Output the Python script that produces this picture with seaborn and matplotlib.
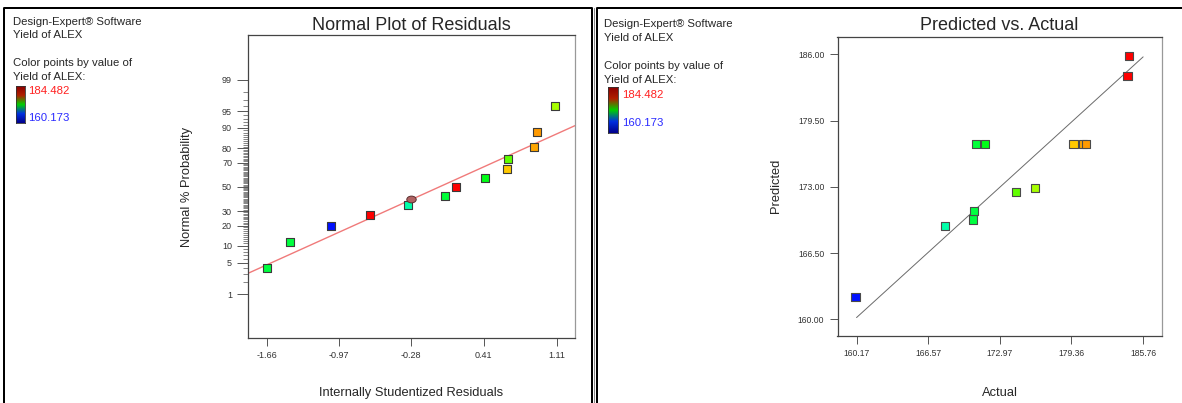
"""Design-Expert style diagnostics: normal plot of residuals and predicted vs actual."""

from statistics import NormalDist

import matplotlib.path as mpath
import matplotlib.pyplot as plt
import numpy as np
import pandas as pd
import seaborn as sns
from matplotlib.colors import LinearSegmentedColormap, ListedColormap
from matplotlib.lines import Line2D
from matplotlib.markers import MarkerStyle
from matplotlib.transforms import Affine2D

# ---- data ----
yield_min, yield_max = 160.173, 184.482

# normal plot of residuals
residuals = [-1.66, -1.44, -1.05, -0.67, -0.31, 0.04, 0.15, 0.42, 0.63, 0.64, 0.89, 0.92, 1.09]
normal_pct = [3.9, 11.7, 19.8, 27.1, 35.0, 42.5, 50.0, 58.0, 65.5, 73.0, 80.8, 88.5, 96.1]
resid_yield = [170.54, 170.63, 160.08, 184.36, 168.10, 170.80, 184.51, 171.64,
               179.54, 174.38, 180.37, 180.63, 176.11]
marked_resid = [-0.28]
marked_pct = [39.7]
fit_intercept, fit_slope = 0.014, 1.028
resid_ticks = [-1.66, -0.97, -0.28, 0.41, 1.11]
pct_ticks = [1, 5, 10, 20, 30, 50, 70, 80, 90, 95, 99]

# predicted vs actual
actual = [160.08, 168.10, 170.54, 170.63, 170.80, 171.64, 174.38, 176.11,
          179.54, 180.37, 180.63, 184.36, 184.51]
predicted = [162.16, 169.12, 169.80, 170.59, 177.19, 177.19, 172.51, 172.87,
             177.19, 177.19, 177.19, 183.92, 185.81]
actual_ticks = [160.17, 166.57, 172.97, 179.36, 185.76]
pred_ticks = [160.00, 166.50, 173.00, 179.50, 186.00]

W, H = 1182, 403


def fx(x):
    return x / W


def fy(y):
    return 1 - y / H


def box(x0, y0, x1, y1):
    return [fx(x0), fy(y1), fx(x1) - fx(x0), fy(y0) - fy(y1)]


sns.set_style("white")
plt.rcParams["font.family"] = ["Liberation Sans", "DejaVu Sans"]

cmap = ListedColormap(plt.get_cmap("hsv")(np.linspace(2 / 3, 0, 256)))
bar_cmap = LinearSegmentedColormap.from_list(
    "bar", ["#00008c", "#0030e0", "#00d000", "#b02000", "#8c0000"])

fig = plt.figure(figsize=(W / 100, H / 100), dpi=100)

# panel frames
for xs, ys, c, lw in [
    ([4, 4, 592, 592], [410, 8, 8, 410], "black", 2.0),
    ([593.5, 593.5], [8, 410], "#888888", 1.0),
    ([597, 597, 1190], [410, 8, 8], "black", 2.0),
]:
    fig.add_artist(Line2D([fx(v) for v in xs], [fy(v) for v in ys],
                          color=c, lw=lw * 0.72, transform=fig.transFigure))


def side_text(x0, ys, lab_x, lab_ys, bar_box):
    fs = 8.2
    fig.text(fx(x0), fy(ys[0]), "Design-Expert® Software", fontsize=fs, va="center")
    fig.text(fx(x0), fy(ys[1]), "Yield of ALEX", fontsize=fs, va="center")
    fig.text(fx(x0), fy(ys[2]), "Color points by value of", fontsize=fs, va="center")
    fig.text(fx(x0), fy(ys[3]), "Yield of ALEX:", fontsize=fs, va="center")
    fig.text(fx(lab_x), fy(lab_ys[0]), f"{yield_max:.3f}", fontsize=fs,
             va="center", color="#ff2020")
    fig.text(fx(lab_x), fy(lab_ys[1]), f"{yield_min:.3f}", fontsize=fs,
             va="center", color="#2a2aff")
    cax = fig.add_axes(box(*bar_box))
    cax.imshow(np.linspace(1, 0, 100).reshape(-1, 1), cmap=bar_cmap, aspect="auto")
    cax.set_xticks([])
    cax.set_yticks([])
    for s in cax.spines.values():
        s.set_color("#333333")
        s.set_linewidth(0.6)


def style_axes(ax):
    for name, s in ax.spines.items():
        s.set_linewidth(0.9)
        s.set_color("#999999" if name == "right" else "#444444")
    ax.tick_params(axis="both", which="major", direction="out", length=6,
                   width=0.7, color="#555555", labelcolor="#333333",
                   left=True, bottom=True)
    ax.tick_params(axis="y", which="minor", direction="out", length=3.5,
                   width=0.5, color="#555555", left=True)


# ---- left: normal plot of residuals ----
side_text(13, [21.7, 35.3, 63.3, 76.7], 28, [90.7, 118.3], (16, 86, 25, 123))

nd = NormalDist()
z = lambda p: nd.inv_cdf(p / 100)
res_df = pd.DataFrame({"resid": residuals,
                       "z": [z(p) for p in normal_pct],
                       "Yield": resid_yield})

ax1 = fig.add_axes(box(248, 35, 575, 338))
xlim1 = (-1.838, 1.282)
xs = np.array(xlim1)
ax1.plot(xs, fit_intercept + fit_slope * xs, color="#f07a7a", lw=1.0, zorder=1)
sns.scatterplot(data=res_df, x="resid", y="z", hue="Yield", palette=cmap,
                hue_norm=(yield_min, yield_max), marker="s", s=34,
                edgecolor="#3a3a3a", linewidth=0.8, legend=False, ax=ax1, zorder=3)
ellipse = MarkerStyle(mpath.Path.unit_circle().transformed(Affine2D().scale(1, 0.72)))
ax1.scatter(marked_resid, [z(p) for p in marked_pct], marker=ellipse, s=46,
            color="#b06262", edgecolor="#5a3030", linewidth=0.7, zorder=4)
ax1.set_xlim(*xlim1)
ax1.set_ylim(-3.28, 3.30)
ax1.set_xticks(resid_ticks)
ax1.set_xticklabels([f"{v:.2f}" for v in resid_ticks], fontsize=6.5)
ax1.set_yticks([z(p) for p in pct_ticks])
ax1.set_yticklabels([str(p) for p in pct_ticks], fontsize=6.5)
ax1.set_yticks([z(p) for p in range(1, 100) if p not in pct_ticks], minor=True)
ax1.set_xlabel("")
ax1.set_ylabel("")
style_axes(ax1)
ax1.tick_params(axis="y", which="major", length=8)
fig.text(fx(411.5), fy(25), "Normal Plot of Residuals", fontsize=13,
         ha="center", va="center")
fig.text(fx(411.5), fy(393), "Internally Studentized Residuals", fontsize=9.3,
         ha="center", va="center")
fig.text(fx(187), fy(187), "Normal % Probability", fontsize=9.3,
         ha="center", va="center", rotation=90)

# ---- right: predicted vs actual ----
side_text(604.3, [24, 37.7, 65.7, 80], 621.7, [95, 122.7], (607.5, 87.3, 617.5, 132.7))

pa_df = pd.DataFrame({"Actual": actual, "Predicted": predicted, "Yield": actual})
ax2 = fig.add_axes(box(837.5, 36.5, 1161.5, 335.7))
ax2.plot([actual_ticks[0], actual_ticks[-1]], [actual_ticks[0], actual_ticks[-1]],
         color="#6a6a6a", lw=0.7, zorder=1)
sns.scatterplot(data=pa_df, x="Actual", y="Predicted", hue="Yield", palette=cmap,
                hue_norm=(yield_min, yield_max), marker="s", s=34,
                edgecolor="#4a4a4a", linewidth=0.8, legend=False, ax=ax2, zorder=3)
ax2.set_xlim(158.47, 187.4)
ax2.set_ylim(158.39, 187.76)
ax2.set_xticks(actual_ticks)
ax2.set_xticklabels([f"{v:.2f}" for v in actual_ticks], fontsize=6.2)
ax2.set_yticks(pred_ticks)
ax2.set_yticklabels([f"{v:.2f}" for v in pred_ticks], fontsize=6.2)
ax2.set_xlabel("")
ax2.set_ylabel("")
style_axes(ax2)
fig.text(fx(999.5), fy(26), "Predicted vs. Actual", fontsize=13,
         ha="center", va="center")
fig.text(fx(999.5), fy(393), "Actual", fontsize=9.3, ha="center", va="center")
fig.text(fx(776), fy(186), "Predicted", fontsize=9.3, ha="center", va="center",
         rotation=90)

fig.savefig("out.png", dpi=100)
